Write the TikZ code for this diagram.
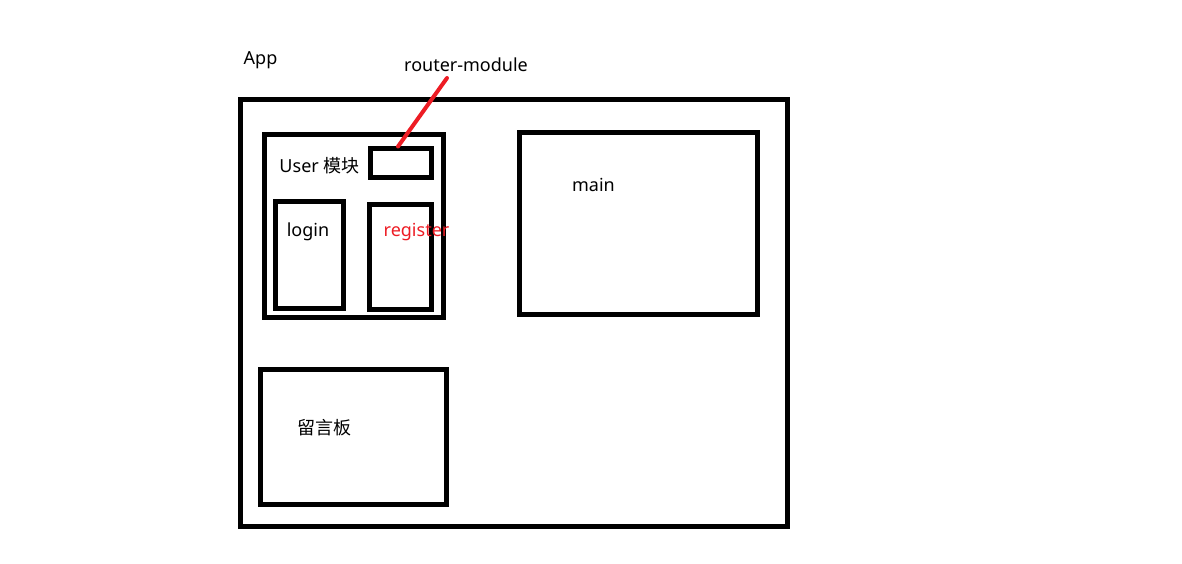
\documentclass[tikz,border=0pt]{standalone}
\usepackage{fontspec}
\setmainfont{Noto Sans}
\newfontfamily\cjk{Noto Sans CJK SC}
\usetikzlibrary{calc}
\definecolor{paintred}{RGB}{237,28,36}
\tikzset{
  blockbox/.style={draw=black, line width=5pt, rectangle, inner sep=0pt},
  labeltext/.style={inner sep=0pt, anchor=base, font=\fontsize{18}{20}\selectfont},
}
\begin{document}
\begin{tikzpicture}[x=1pt, y=-1pt]
\useasboundingbox (0,0) rectangle (1182,563);
% boxes
\node[blockbox, minimum width=547pt, minimum height=427pt] (app) at (514,313) {};
\node[blockbox, minimum width=178.5pt, minimum height=183pt] (user) at (353.75,226) {};
\node[blockbox, minimum width=61pt, minimum height=29.5pt] (router) at (401,162.75) {};
\node[blockbox, minimum width=68pt, minimum height=107pt] (login) at (309.5,255) {};
\node[blockbox, minimum width=62pt, minimum height=104.5pt] (register) at (400.5,256.75) {};
\node[blockbox, minimum width=238pt, minimum height=182pt] (main) at (638.5,223.5) {};
\node[blockbox, minimum width=186pt, minimum height=135pt] (board) at (353.5,437) {};
% texts
\node[labeltext] (applabel) at (260.5,64) {App};
\node[labeltext] (routerlabel) at (466,71) {router-module};
\node[labeltext] (userlabel) at (319.5,172) {User {\cjk 模块}};
\node[labeltext] (loginlabel) at (308,236) {login};
\node[labeltext, text=paintred] (registerlabel) at (416.5,236) {register};
\node[labeltext] (mainlabel) at (593.5,191) {main};
\node[labeltext] (boardlabel) at (324.5,434) {\cjk 留言板};
% red pointer
\draw[paintred, line width=4pt, line cap=round]
  ([xshift=-3pt,yshift=-1pt]router.north) -- ([xshift=-19pt,yshift=-7pt]routerlabel.base);
\end{tikzpicture}
\end{document}
